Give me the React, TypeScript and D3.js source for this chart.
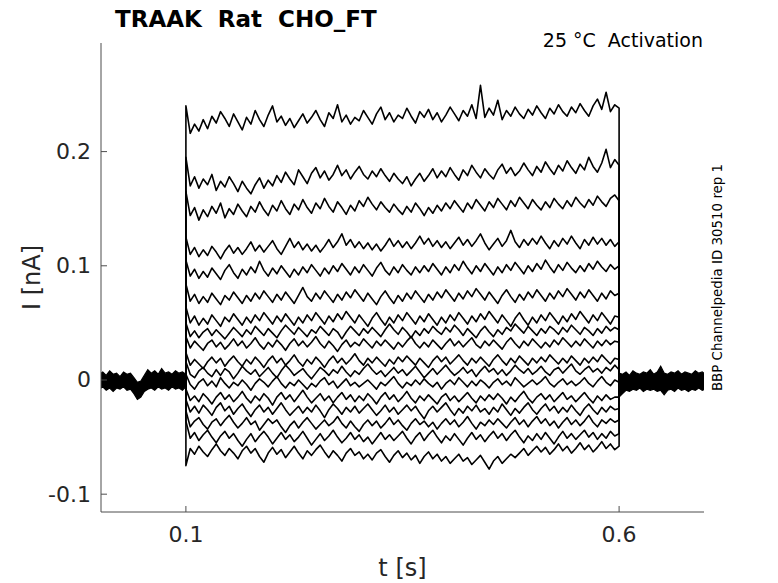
import React from 'react';
import * as d3 from 'd3';

// ---- axes ----
const xTicks = [0.1, 0.6];
const yTicks = [-0.1, 0, 0.1, 0.2];
const xDomain: [number, number] = [0.002, 0.698];
const yDomain: [number, number] = [-0.1156, 0.2951];

// ---- protocol ----
const stepStart = 0.1;
const stepEnd = 0.6;
const baseDt = 0.004; // sampling of baseline envelope (s)

// ---- step currents, pA, sampled evenly from 0.1 s to 0.6 s ----
const trace01 = [
  240, 216, 224, 218, 228, 220, 231, 225, 235, 229,
  222, 233, 226, 219, 230, 224, 236, 228, 222, 232,
  240, 226, 231, 223, 229, 221, 227, 233, 225, 230,
  236, 228, 222, 234, 229, 241, 226, 232, 224, 230,
  227, 236, 230, 224, 233, 239, 228, 234, 226, 232,
  229, 238, 231, 225, 235, 230, 237, 228, 234, 226,
  232, 239, 233, 227, 236, 231, 241, 229, 258, 230,
  238, 232, 245, 228, 236, 231, 239, 233, 229, 237,
  232, 240, 234, 229, 238, 233, 241, 235, 231, 239,
  234, 242, 236, 231, 240, 246, 237, 252, 235, 241,
  238,
];
const trace02 = [
  195, 170, 178, 168, 176, 171, 180, 166, 174, 169,
  178, 172, 165, 174, 168, 163, 171, 177, 168, 175,
  170, 179, 173, 182, 176, 171, 184, 178, 172, 181,
  186, 177, 183, 175, 180, 188, 179, 184, 176, 182,
  187, 180, 176, 183, 178, 185, 179, 174, 181, 176,
  172, 178, 170, 176, 181, 174, 179, 185, 177, 183,
  178, 186, 180, 175, 184, 179, 188, 182, 177, 185,
  180, 176, 184, 189, 181, 186, 179, 183, 190, 184,
  179, 187, 182, 191, 185, 180, 188, 183, 192, 186,
  181, 189, 184, 195, 187, 182, 190, 202, 186, 193,
  188,
];
const trace03 = [
  165, 144, 151, 140, 149, 143, 152, 146, 155, 142,
  150, 145, 154, 148, 143, 152, 147, 156, 149, 144,
  153, 148, 157, 150, 145, 154, 149, 158, 151, 146,
  155, 150, 159, 152, 147, 156, 151, 145, 153, 148,
  157, 152, 160, 154, 149, 156, 151, 147, 154, 149,
  145, 152, 147, 155, 150, 144, 151, 146, 153, 148,
  155, 150, 157, 152, 147, 155, 150, 158, 153, 148,
  156, 151, 159, 154, 149, 157, 152, 160, 155, 150,
  158, 153, 149, 156, 151, 159, 154, 150, 157, 152,
  160, 155, 151, 158, 153, 161, 156, 152, 159, 162,
  157,
];
const trace04 = [
  125, 110, 116, 108, 114, 109, 117, 112, 106, 113,
  118, 111, 116, 110, 115, 121, 113, 118, 112, 117,
  122, 115, 110, 117, 124, 116, 121, 114, 119, 113,
  118, 112, 117, 123, 116, 121, 128, 118, 123, 116,
  121, 115, 120, 114, 119, 113, 118, 124, 117, 122,
  116, 121, 115, 120, 126, 119, 124, 117, 122, 116,
  121, 115, 120, 125, 118, 123, 117, 122, 128, 120,
  114, 119, 124, 117, 122, 131, 121, 116, 123, 118,
  124, 119, 126, 120, 115, 122, 117, 124, 119, 126,
  120, 115, 123, 118, 125, 119, 124, 118, 123, 117,
  121,
];
const trace05 = [
  105, 91, 97, 89, 95, 90, 98, 93, 88, 96,
  101, 94, 89, 97, 92, 99, 94, 104, 96, 91,
  98, 93, 100, 95, 90, 97, 92, 99, 94, 101,
  96, 91, 98, 93, 100, 95, 102, 97, 92, 99,
  94, 101, 96, 91, 98, 103, 96, 92, 99, 94,
  101, 96, 92, 99, 94, 100, 95, 102, 97, 92,
  99, 94, 101, 96, 104, 98, 93, 100, 95, 102,
  97, 92, 99, 94, 101, 96, 103, 98, 93, 100,
  95, 102, 97, 105, 99, 94, 101, 96, 103, 98,
  94, 100, 95, 102, 97, 104, 99, 95, 101, 97,
  100,
];
const trace06 = [
  84, 69, 75, 67, 73, 68, 76, 71, 66, 74,
  70, 77, 72, 67, 74, 69, 76, 71, 78, 73,
  68, 75, 70, 77, 72, 67, 74, 81, 73, 69,
  76, 71, 78, 73, 68, 75, 70, 77, 72, 79,
  74, 69, 76, 71, 66, 73, 78, 72, 67, 74,
  69, 76, 71, 78, 73, 68, 75, 70, 77, 72,
  79, 74, 69, 76, 71, 78, 73, 80, 75, 70,
  77, 72, 67, 74, 79, 73, 68, 75, 70, 77,
  72, 79, 74, 69, 76, 71, 78, 73, 80, 75,
  70, 77, 72, 79, 74, 69, 76, 71, 78, 74,
  76,
];
const trace07 = [
  64, 50, 56, 48, 54, 49, 57, 52, 47, 55,
  51, 58, 53, 48, 55, 50, 57, 52, 59, 54,
  49, 56, 51, 58, 53, 48, 55, 50, 57, 52,
  59, 54, 49, 56, 51, 58, 53, 60, 55, 50,
  57, 52, 47, 54, 59, 53, 48, 55, 50, 57,
  52, 59, 54, 49, 56, 51, 58, 53, 48, 55,
  50, 57, 52, 59, 54, 49, 56, 51, 58, 53,
  60, 55, 50, 57, 52, 47, 54, 59, 53, 48,
  55, 50, 57, 52, 59, 54, 49, 56, 51, 58,
  53, 60, 55, 50, 57, 52, 59, 54, 49, 56,
  55,
];
const trace08 = [
  50, 38, 43, 37, 42, 45, 39, 44, 40, 36,
  41, 46, 42, 38, 44, 40, 47, 43, 39, 45,
  41, 37, 43, 48, 44, 40, 46, 42, 38, 44,
  41, 47, 43, 39, 45, 42, 36, 42, 47, 43,
  39, 45, 41, 46, 42, 38, 44, 49, 44, 40,
  46, 42, 37, 43, 39, 45, 41, 47, 43, 40,
  46, 42, 48, 44, 39, 45, 41, 37, 43, 47,
  42, 38, 44, 40, 46, 43, 49, 45, 41, 47,
  43, 39, 45, 41, 47, 44, 40, 46, 42, 48,
  44, 40, 46, 43, 39, 45, 41, 47, 43, 46,
  44,
];
const trace09 = [
  38, 28, 34, 30, 26, 32, 35, 29, 33, 27,
  31, 36, 30, 34, 28, 32, 37, 31, 27, 33,
  29, 35, 31, 26, 32, 36, 30, 34, 29, 33,
  38, 32, 28, 34, 30, 25, 31, 35, 29, 33,
  30, 36, 32, 28, 34, 30, 35, 31, 27, 33,
  29, 34, 38, 32, 28, 33, 29, 35, 31, 27,
  32, 36, 30, 34, 29, 33, 37, 31, 28, 34,
  30, 35, 31, 27, 33, 37, 32, 28, 34, 30,
  36, 32, 28, 33, 29, 35, 31, 37, 33, 29,
  34, 30, 36, 32, 28, 34, 30, 35, 31, 34,
  33,
];
const trace10 = [
  24, 13, 18, 14, 10, 16, 20, 15, 19, 12,
  17, 21, 16, 12, 18, 14, 20, 16, 11, 17,
  21, 15, 19, 13, 17, 22, 16, 12, 18, 14,
  20, 16, 11, 17, 21, 15, 19, 14, 18, 23,
  17, 13, 19, 15, 20, 16, 12, 18, 14, 20,
  16, 21, 17, 13, 19, 15, 11, 17, 21, 16,
  20, 14, 18, 22, 17, 13, 19, 15, 20, 16,
  12, 18, 22, 17, 13, 19, 15, 21, 17, 13,
  19, 15, 20, 16, 22, 18, 14, 19, 15, 21,
  17, 13, 19, 15, 20, 16, 22, 18, 14, 19,
  18,
];
const trace11 = [
  16, 5, 2, 8, 11, 6, 3, 9, 4, 10,
  7, 1, 6, 12, 8, 5, 9, 3, 7, 11,
  6, 2, 8, 13, 9, 4, 7, 10, 5, 1,
  6, 11, 8, 4, 9, 6, 12, 7, 3, 8,
  5, 10, 14, 9, 5, 8, 3, 7, 11, 6,
  9, 4, 8, 12, 7, 2, 6, 10, 5, 9,
  13, 8, 4, 7, 11, 6, 9, 3, 8, 12,
  7, 10, 5, 9, 4, 8, 13, 9, 6, 10,
  5, 8, 12, 7, 4, 9, 11, 6, 10, 14,
  8, 5, 9, 12, 7, 10, 6, 11, 8, 13,
  9,
];
const trace12 = [
  5, -4, -8, -2, 1, -5, -1, -6, 2, -3,
  -7, -2, -5, 0, -4, -9, -3, 1, -2, -6,
  -1, 3, -3, -7, -2, -5, 0, -4, -8, -3,
  -6, -1, 2, -4, -1, -7, -3, 1, -5, -2,
  -6, -3, 0, -4, -8, -2, -5, -1, 3, -3,
  -7, -2, -5, 0, -4, 1, -3, -6, -2, -8,
  -3, 0, -4, 2, -2, -6, -1, -5, 0, -3,
  -7, -2, 1, -4, -1, -5, 2, -2, -6, -3,
  0, -4, -1, 3, -3, -6, -2, 1, -4, -1,
  -5, -2, 2, -3, -6, -1, 3, -2, -5, 0,
  -2,
];
const trace13 = [
  -8, -18, -14, -19, -12, -16, -21, -15, -11, -17,
  -13, -19, -15, -10, -16, -20, -14, -18, -12, -16,
  -22, -15, -11, -17, -13, -19, -14, -9, -15, -20,
  -16, -12, -18, -14, -20, -15, -11, -17, -13, -19,
  -14, -18, -12, -16, -21, -15, -11, -17, -13, -19,
  -15, -10, -16, -20, -14, -18, -13, -17, -21, -15,
  -12, -18, -14, -19, -15, -11, -16, -20, -14, -18,
  -13, -17, -12, -16, -21, -15, -19, -14, -10, -16,
  -20, -15, -12, -17, -13, -19, -15, -11, -17, -14,
  -19, -15, -11, -16, -20, -14, -18, -13, -17, -15,
  -15,
];
const trace14 = [
  -17, -28, -23, -29, -22, -26, -31, -24, -20, -27,
  -23, -30, -25, -21, -27, -32, -26, -22, -28, -24,
  -30, -25, -20, -26, -31, -27, -23, -29, -24, -28,
  -22, -27, -33, -26, -21, -25, -30, -24, -28, -23,
  -29, -25, -21, -26, -31, -27, -22, -28, -24, -30,
  -26, -22, -27, -23, -29, -34, -27, -23, -28, -24,
  -20, -26, -31, -25, -29, -23, -27, -22, -28, -25,
  -30, -24, -28, -21, -26, -31, -25, -29, -24, -20,
  -26, -30, -25, -21, -27, -23, -29, -24, -28, -22,
  -27, -31, -25, -21, -26, -30, -24, -28, -23, -26,
  -25,
];
const trace15 = [
  -27, -41, -36, -33, -39, -43, -37, -34, -40, -35,
  -31, -37, -42, -38, -33, -39, -36, -44, -39, -34,
  -38, -35, -41, -46, -40, -36, -42, -37, -33, -38,
  -43, -39, -35, -40, -37, -32, -38, -42, -36, -41,
  -45, -39, -35, -40, -36, -42, -38, -33, -39, -35,
  -40, -44, -38, -34, -39, -36, -41, -37, -43, -38,
  -34, -39, -35, -41, -37, -32, -38, -43, -37, -40,
  -35, -39, -34, -38, -42, -37, -33, -39, -35, -41,
  -36, -32, -38, -34, -40, -36, -42, -37, -33, -39,
  -35, -40, -36, -31, -37, -41, -35, -38, -34, -37,
  -35,
];
const trace16 = [
  -36, -51, -46, -53, -48, -44, -50, -55, -49, -45,
  -51, -47, -53, -58, -52, -47, -54, -49, -45, -50,
  -56, -51, -46, -52, -48, -54, -50, -45, -51, -57,
  -52, -47, -53, -49, -44, -50, -55, -51, -46, -52,
  -48, -54, -50, -56, -51, -46, -52, -48, -53, -49,
  -45, -51, -56, -50, -46, -53, -48, -44, -50, -55,
  -49, -53, -47, -52, -57, -51, -46, -52, -48, -54,
  -49, -45, -51, -47, -53, -48, -44, -50, -55, -49,
  -53, -47, -52, -46, -51, -56, -50, -45, -51, -47,
  -52, -48, -44, -50, -46, -52, -47, -51, -45, -49,
  -47,
];
const trace17 = [
  -75, -60, -65, -58, -63, -67, -61, -56, -62, -66,
  -60, -64, -69, -62, -58, -64, -60, -67, -72, -64,
  -59, -65, -61, -68, -63, -58, -64, -69, -62, -66,
  -61, -57, -63, -68, -62, -66, -71, -64, -60, -66,
  -63, -69, -65, -70, -64, -61, -67, -72, -66, -62,
  -68, -64, -70, -66, -73, -67, -63, -69, -65, -71,
  -67, -73, -69, -65, -71, -68, -74, -70, -66, -72,
  -78, -71, -67, -73, -69, -65, -68, -64, -60, -66,
  -62, -58, -63, -59, -65, -61, -56, -62, -58, -64,
  -60, -55, -61, -57, -63, -59, -54, -60, -56, -61,
  -58,
];
const traces = [
  trace01, trace02, trace03, trace04, trace05, trace06, trace07, trace08, trace09,
  trace10, trace11, trace12, trace13, trace14, trace15, trace16, trace17,
];

// ---- baseline envelope of all sweeps (pA), before and after the step ----
const preUpper = [5, 7, 4, 8, 5, 6, 3, 7, 5, 6, 2, -2, -1, 4, 9, 6, 8, 5, 10, 6, 7, 5, 8, 6, 7, 5];
const preLower = [-8, -6, -9, -7, -10, -7, -8, -6, -9, -8, -12, -17, -15, -10, -8, -7, -9, -6, -8, -7, -9, -6, -8, -7, -9, -6];
const postUpper = [6, 5, 7, 4, 8, 6, 5, 7, 6, 9, 5, 7, 12, 6, 5, 7, 6, 8, 5, 7, 6, 5, 8, 6, 7, 5];
const postLower = [-15, -12, -9, -10, -8, -9, -7, -10, -8, -9, -8, -10, -9, -13, -9, -8, -10, -7, -9, -8, -10, -8, -9, -7, -9, -8];

const title = 'TRAAK  Rat  CHO_FT';
const subtitle = '25 °C  Activation';
const sideNote = 'BBP Channelpedia ID 30510 rep 1';
const xLabel = 't [s]';
const yLabel = 'I [nA]';

const FONT = '"DejaVu Sans", Verdana, sans-serif';

export default function App() {
  const W = 778;
  const H = 583;
  const left = 101, right = 704, top = 43, bottom = 512;
  const x = d3.scaleLinear().domain(xDomain).range([left, right]);
  const y = d3.scaleLinear().domain(yDomain).range([bottom, top]);
  const pA = (v: number) => y(v / 1000);

  const line = d3
    .line<[number, number]>()
    .x((d) => x(d[0]))
    .y((d) => pA(d[1]));

  const tracePaths = traces.map((vals) => {
    const n = vals.length;
    const pts: [number, number][] = [[stepStart, 0]];
    vals.forEach((v, i) => pts.push([stepStart + ((stepEnd - stepStart) * i) / (n - 1), v]));
    pts.push([stepEnd, 0]);
    return line(pts) as string;
  });

  const area = d3
    .area<{ t: number; hi: number; lo: number }>()
    .x((d) => x(d.t))
    .y0((d) => pA(d.lo))
    .y1((d) => pA(d.hi));

  const pre = preUpper.map((hi, i) => ({ t: i * baseDt, hi, lo: preLower[i] }));
  const post = postUpper.map((hi, i) => ({ t: stepEnd + i * baseDt, hi, lo: postLower[i] }));

  const axisColor = '#4d4d4d';
  const textColor = '#262626';

  return (
    <svg
      width={W}
      height={H}
      viewBox={`0 0 ${W} ${H}`}
      style={{ position: 'absolute', left: 0, top: 0, background: '#fff' }}
      fontFamily={FONT}
    >
      <defs>
        <clipPath id="plotClip">
          <rect x={left} y={top} width={right - left} height={bottom - top} />
        </clipPath>
      </defs>
      <rect x={0} y={0} width={W} height={H} fill="#fff" />

      <g clipPath="url(#plotClip)">
        <path d={area(pre) as string} fill="#000" stroke="#000" strokeWidth={1.2} />
        <path d={area(post) as string} fill="#000" stroke="#000" strokeWidth={1.2} />
        {tracePaths.map((d, i) => (
          <path key={i} d={d} fill="none" stroke="#000" strokeWidth={1.6} strokeLinejoin="round" />
        ))}
      </g>

      {/* axes */}
      <line x1={left} x2={left} y1={top} y2={bottom} stroke={axisColor} strokeWidth={1} />
      <line x1={left} x2={right} y1={bottom} y2={bottom} stroke={axisColor} strokeWidth={1} />
      {yTicks.map((t) => (
        <g key={'y' + t}>
          <line x1={left} x2={left + 6} y1={y(t)} y2={y(t)} stroke={axisColor} strokeWidth={1} />
          <text
            x={left - 10}
            y={y(t)}
            textAnchor="end"
            dominantBaseline="central"
            fontSize={22}
            fill={textColor}
          >
            {t === 0 ? '0' : String(t)}
          </text>
        </g>
      ))}
      {xTicks.map((t) => (
        <g key={'x' + t}>
          <line x1={x(t)} x2={x(t)} y1={bottom} y2={bottom - 6} stroke={axisColor} strokeWidth={1} />
          <text x={x(t)} y={542} textAnchor="middle" fontSize={22} fill={textColor}>
            {String(t)}
          </text>
        </g>
      ))}

      <text x={(left + right) / 2} y={576} textAnchor="middle" fontSize={24} fill={textColor}>
        {xLabel}
      </text>
      <text
        transform={`translate(40, ${(top + bottom) / 2}) rotate(-90)`}
        textAnchor="middle"
        fontSize={24}
        fill={textColor}
      >
        {yLabel}
      </text>

      <text x={115} y={27} fontSize={23} fontWeight="bold" fill="#000" style={{ whiteSpace: 'pre' }}>
        {title}
      </text>
      <text x={703} y={47} textAnchor="end" fontSize={19} fill="#000" style={{ whiteSpace: 'pre' }}>
        {subtitle}
      </text>
      <text
        transform={`translate(722, ${(top + bottom) / 2}) rotate(-90)`}
        textAnchor="middle"
        fontSize={13.4}
        fill="#000"
      >
        {sideNote}
      </text>
    </svg>
  );
}
